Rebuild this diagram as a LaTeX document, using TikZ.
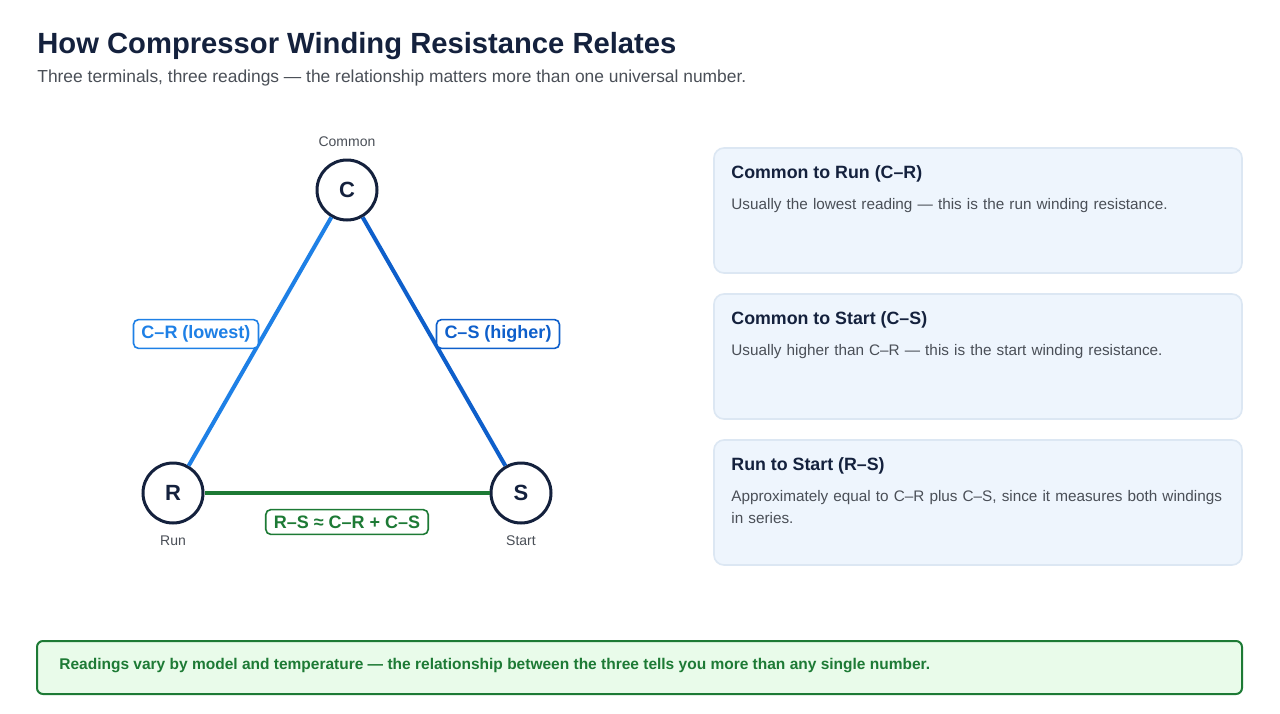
\documentclass[tikz,border=0pt]{standalone}
\usepackage{fontspec}
\setmainfont{Liberation Sans}
\usetikzlibrary{positioning}
\definecolor{navy}{HTML}{14213D}
\definecolor{greytxt}{HTML}{4A4F57}
\definecolor{blueA}{HTML}{1E80E6}
\definecolor{blueB}{HTML}{0E5FCB}
\definecolor{greenA}{HTML}{1D7A35}
\definecolor{cardfill}{HTML}{EEF5FD}
\definecolor{cardline}{HTML}{DCE7F3}
\definecolor{notefill}{HTML}{E9FBEA}
\tikzset{
  term/.style={circle,draw=navy,line width=1.5pt,fill=white,minimum size=30pt,inner sep=0pt,font=\fontsize{11}{13}\selectfont\bfseries,text=navy},
  termlbl/.style={font=\fontsize{7}{8}\selectfont,text=greytxt},
  tag/.style={draw=#1,text=#1,fill=white,rounded corners=2.5pt,line width=0.8pt,font=\fontsize{9}{11}\selectfont\bfseries,inner xsep=4pt,inner ysep=3pt},
  card/.style={draw=cardline,fill=cardfill,rounded corners=5pt,line width=0.8pt},
  cardhead/.style={anchor=west,inner sep=0pt,font=\fontsize{8.9}{11}\selectfont\bfseries,text=navy},
  cardbody/.style={anchor=north west,align=left,text width=252pt,font=\fontsize{7.65}{11}\selectfont,text=greytxt,inner sep=0pt}
}
\hyphenpenalty=10000
\begin{document}
\begin{tikzpicture}[x=0.5pt,y=-0.5pt]
\useasboundingbox[fill=white] (0,0) rectangle (1280,713);
% heading
\node[anchor=base west,inner sep=0pt,font=\fontsize{14.6}{18}\selectfont\bfseries,text=navy] (title) at (37,53) {How Compressor Winding Resistance Relates};
\node[anchor=base west,inner sep=0pt,font=\fontsize{8.7}{11}\selectfont,text=greytxt] (sub) at (37,82) {Three terminals, three readings — the relationship matters more than one universal number.};
% triangle
\node[term] (C) at (347,190) {C};
\node[term] (R) at (173,493) {R};
\node[term] (S) at (521,493) {S};
\node[termlbl] (lc) at (347,142) {Common};
\node[termlbl] (lr) at (173,541) {Run};
\node[termlbl] (ls) at (521,541) {Start};
\draw[blueA,line width=2pt] (C) -- (R);
\draw[blueB,line width=2pt] (C) -- (S);
\draw[greenA,line width=2pt] (R) -- (S);
\node[tag=blueA] (tcr) at (196,334) {C–R (lowest)};
\node[tag=blueB] (tcs) at (498,334) {C–S (higher)};
\node[tag=greenA] (trs) at (347,522) {R–S ≈ C–R + C–S};
% cards
\foreach \y/\head/\body in {148/Common to Run (C–R)/Usually the lowest reading — this is the run winding resistance.,
  294/Common to Start (C–S)/Usually higher than C–R — this is the start winding resistance.,
  440/Run to Start (R–S)/Approximately equal to C–R plus C–S{,} since it measures both windings in series.} {
  \draw[card] (714,\y) rectangle (1242,\y+125);
  \node[cardhead] at (731,\y+26) {\head};
  \node[cardbody] at (731,\y+50) {\body};
}
% note
\draw[draw=greenA,fill=notefill,rounded corners=3pt,line width=1pt] (37,641) rectangle (1242,694);
\node[anchor=west,inner sep=0pt,font=\fontsize{7.75}{10}\selectfont\bfseries,text=greenA] (note) at (59,666) {Readings vary by model and temperature — the relationship between the three tells you more than any single number.};
\end{tikzpicture}
\end{document}
